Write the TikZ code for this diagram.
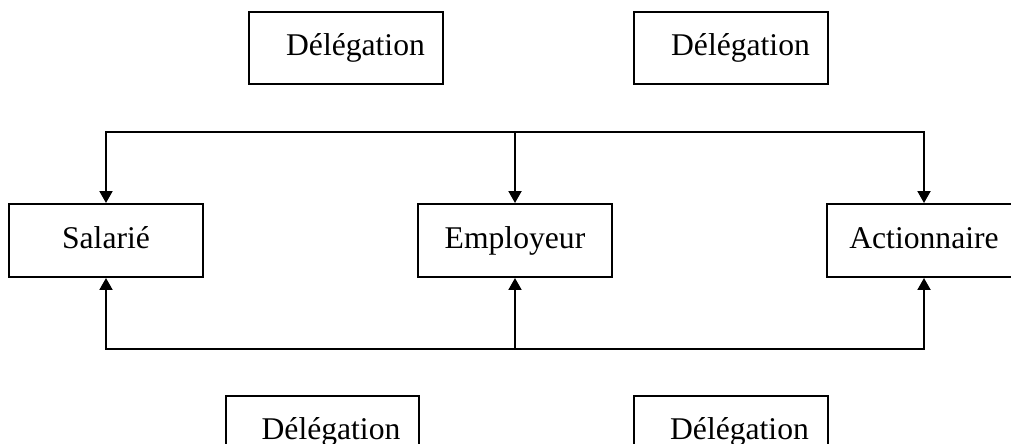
\documentclass[tikz,border=0pt]{standalone}
\usepackage{fontspec}
\setmainfont{Liberation Serif}
\usetikzlibrary{arrows.meta}

\begin{document}
\begin{tikzpicture}[x=0.02cm,y=-0.02cm,line width=0.04cm,
  box/.style={draw,inner sep=0pt,minimum width=3.88cm,minimum height=1.46cm,
    text height=13pt,text depth=4pt,font=\fontsize{18}{20}\selectfont},
  arr/.style={-{Triangle[length=0.24cm,width=0.26cm]}}]
\useasboundingbox (0,0) rectangle (1011,443);

\node[box] (sal) at (106,240.5) {Salari\'e};
\node[box] (emp) at (515,240.5) {Employeur};
\node[box] (act) at (924,240.5) {Actionnaire};

\node[box,minimum height=1.44cm] (d1) at (346,48) {\hspace*{0.38cm}D\'el\'egation};
\node[box,minimum height=1.44cm] (d2) at (731,48) {\hspace*{0.38cm}D\'el\'egation};
\node[box,minimum height=1.44cm] (d3) at (322.5,432) {\hspace*{0.34cm}D\'el\'egation};
\node[box,minimum height=1.44cm] (d4) at (731,432) {\hspace*{0.34cm}D\'el\'egation};

\coordinate (top) at (515,132);
\coordinate (bot) at (515,349);

\draw[arr] (top) -| (sal.north);
\draw[arr] (top) -- (emp.north);
\draw[arr] (top) -| (act.north);

\draw[arr] (bot) -| (sal.south);
\draw[arr] (bot) -- (emp.south);
\draw[arr] (bot) -| (act.south);

\end{tikzpicture}
\end{document}
